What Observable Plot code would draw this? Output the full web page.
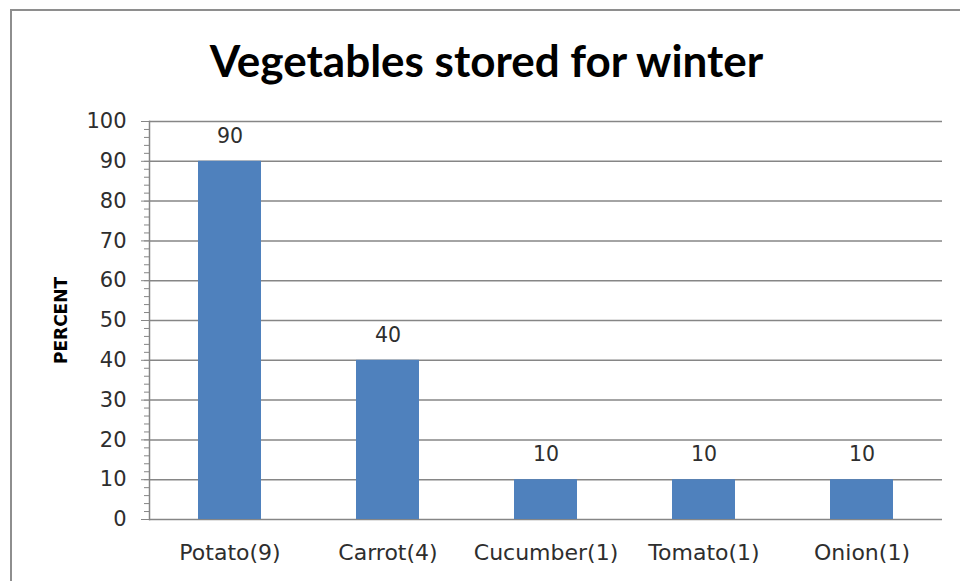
<!DOCTYPE html>
<html>
<head>
<meta charset="utf-8">
<script src="https://cdn.jsdelivr.net/npm/d3@7"></script>
<script src="https://cdn.jsdelivr.net/npm/@observablehq/plot@0.6"></script>
<style>
  html, body { margin: 0; padding: 0; background: #fff; }
  #wrap { position: relative; width: 960px; height: 581px; overflow: hidden; }
  #frame { position: absolute; left: 10px; top: 9px; width: 980px; height: 600px;
           border-left: 2px solid #8e8e8e; border-top: 2px solid #8e8e8e; pointer-events: none; }
  #title { margin-left: 13px; width: 947px; height: 100px; box-sizing: border-box; padding-top: 38px;
           text-align: center; font-family: Lato, sans-serif; font-weight: bold; font-size: 44px;
           line-height: 44px; color: #000; }
  #chart svg { display: block; }
</style>
</head>
<body>
<div id="wrap">
  <div id="frame"></div>
  <div id="title">Vegetables stored for winter</div>
  <div id="chart"></div>
</div>
<script>
const categories = ["Potato(9)", "Carrot(4)", "Cucumber(1)", "Tomato(1)", "Onion(1)"];
const percents = [90, 40, 10, 10, 10];
const majorTicks = [0, 10, 20, 30, 40, 50, 60, 70, 80, 90, 100];
const minorTicks = [0, 2, 4, 6, 8, 10, 12, 14, 16, 18, 20, 22, 24, 26, 28, 30, 32, 34, 36, 38, 40,
  42, 44, 46, 48, 50, 52, 54, 56, 58, 60, 62, 64, 66, 68, 70, 72, 74, 76, 78, 80,
  82, 84, 86, 88, 90, 92, 94, 96, 98, 100];
const yLabel = "PERCENT";

const data = categories.map((c, i) => ({veg: c, pct: percents[i]}));
const gray = "#868686";
const ink = "#2e2e2e";

const chart = Plot.plot({
  width: 960,
  height: 481,
  marginLeft: 149,
  marginRight: 18,
  marginTop: 21,
  marginBottom: 62,
  style: {fontFamily: "DejaVu Sans", fontSize: "20px", color: ink, background: "transparent"},
  x: {domain: categories, paddingInner: 0.6, paddingOuter: 0.3, label: null},
  y: {domain: [0, 100], label: null},
  marks: [
    Plot.gridY(majorTicks, {stroke: gray, strokeOpacity: 1, strokeWidth: 1.5}),
    Plot.frame({anchor: "left", stroke: gray, strokeWidth: 1.5}),
    Plot.axisY(minorTicks, {tickSize: 5, tickFormat: () => "", stroke: gray, strokeOpacity: 1, label: null}),
    Plot.axisY(majorTicks, {tickSize: 8, tickPadding: 15, stroke: gray, strokeOpacity: 1, fill: ink, fontSize: 21, label: null}),
    Plot.axisX({tickSize: 0, tickPadding: 25, fill: ink, fontSize: 22, label: null}),
    Plot.barY(data, {x: "veg", y: "pct", fill: "#4F81BD"}),
    Plot.text(data, {x: "veg", y: "pct", text: d => String(d.pct), dy: -25, fontSize: 20.5, fill: ink}),
    Plot.text([yLabel], {frameAnchor: "left", dx: -88, rotate: -90, textAnchor: "middle", fontWeight: "bold", fontSize: 17, fill: "#000"})
  ]
});
document.getElementById("chart").appendChild(chart);
</script>
</body>
</html>
